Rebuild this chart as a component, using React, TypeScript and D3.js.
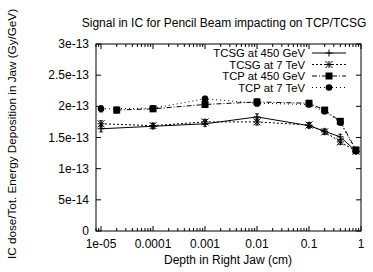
import React from 'react';
import * as d3 from 'd3';

const depths = [1e-5, 1e-4, 1e-3, 1e-2, 0.1, 0.2, 0.4, 0.8];
const tcpDepths = [2e-5, 1e-4, 1e-3, 1e-2, 0.1, 0.2, 0.4, 0.8];

// values in units of 1e-13 Gy/GeV
const tcsg450 = [1.64, 1.68, 1.72, 1.83, 1.69, 1.60, 1.51, 1.28];
const tcsg7 = [1.72, 1.69, 1.75, 1.75, 1.70, 1.59, 1.43, 1.28];
const tcp450 = [1.94, 1.96, 2.03, 2.07, 2.05, 1.94, 1.76, 1.30];
const tcp7 = [1.96, 1.97, 2.12, 2.05, 2.03, 1.92, 1.74, 1.28];
const errs = [0.05, 0.04, 0.04, 0.05, 0.04, 0.04, 0.04, 0.03];

const xTicks = [1e-5, 1e-4, 1e-3, 1e-2, 0.1, 1];
const xTickLabels = ['1e-05', '0.0001', '0.001', '0.01', '0.1', '1'];
const yTicks = [0, 0.5, 1, 1.5, 2, 2.5, 3];
const yTickLabels = ['0', '5e-14', '1e-13', '1.5e-13', '2e-13', '2.5e-13', '3e-13'];

const W = 373;
const H = 272;
const margin = { top: 44, right: 12, bottom: 41, left: 96 };
const font = '"Liberation Sans", Arial, sans-serif';
const fs = 12;

type Series = { name: string; xs: number[]; ys: number[]; dash: string; marker: string };

const series: Series[] = [
  { name: 'TCSG at 450 GeV', xs: depths, ys: tcsg450, dash: '', marker: 'plus' },
  { name: 'TCSG at 7 TeV', xs: depths, ys: tcsg7, dash: '2,2', marker: 'star' },
  { name: 'TCP at 450 GeV', xs: tcpDepths, ys: tcp450, dash: '5,2,1,2', marker: 'square' },
  { name: 'TCP at 7 TeV', xs: depths, ys: tcp7, dash: '1,3', marker: 'circle' },
];

const Marker: React.FC<{ kind: string; x: number; y: number }> = ({ kind, x, y }) => {
  const s = 3.5;
  if (kind === 'plus')
    return <path d={`M${x - s},${y}H${x + s}M${x},${y - s}V${y + s}`} stroke="#000" strokeWidth={1} />;
  if (kind === 'star')
    return (
      <path
        d={`M${x - s},${y}H${x + s}M${x},${y - s}V${y + s}M${x - s},${y - s}L${x + s},${y + s}M${x - s},${y + s}L${x + s},${y - s}`}
        stroke="#000"
        strokeWidth={1}
      />
    );
  if (kind === 'square') return <rect x={x - 3.5} y={y - 3.5} width={7} height={7} fill="#000" />;
  return <circle cx={x} cy={y} r={3.3} fill="#000" />;
};

export default function App() {
  const x = d3.scaleLog().domain([8e-6, 1]).range([margin.left, W - margin.right]);
  const y = d3.scaleLinear().domain([0, 3]).range([H - margin.bottom, margin.top]);
  const x0 = margin.left;
  const x1 = W - margin.right;
  const y0 = H - margin.bottom;
  const y1 = margin.top;

  const minor: number[] = [];
  for (let e = -6; e < 0; e++) {
    for (let m = 2; m <= 9; m++) {
      const v = m * Math.pow(10, e);
      if (v >= 8e-6 && v <= 1) minor.push(v);
    }
  }

  const line = d3
    .line<[number, number]>()
    .x((d) => x(d[0]))
    .y((d) => y(d[1]));

  const legendY = [53, 64.5, 76, 87.5];

  return (
    <svg width={W} height={H} style={{ position: 'absolute', left: 0, top: 0, background: '#fff' }}>
      <g fontFamily={font} fontSize={fs} fill="#000">
        <text x={224} y={27} textAnchor="middle">
          Signal in IC for Pencil Beam impacting on TCP/TCSG
        </text>
        <text x={228} y={264} textAnchor="middle">
          Depth in Right Jaw (cm)
        </text>
        <text transform={`translate(16,134) rotate(-90)`} textAnchor="middle" fontSize={11.7}>
          IC dose/Tot. Energy Deposition in Jaw (Gy/GeV)
        </text>
        {yTicks.map((t, i) => (
          <text key={t} x={x0 - 7} y={y(t) + 4} textAnchor="end">
            {yTickLabels[i]}
          </text>
        ))}
        {xTicks.map((t, i) => (
          <text key={t} x={x(t)} y={y0 + 17} textAnchor="middle">
            {xTickLabels[i]}
          </text>
        ))}
      </g>

      <g stroke="#000" strokeWidth={1} fill="none">
        {yTicks.map((t) => (
          <path key={t} d={`M${x0},${y(t)}h5M${x1},${y(t)}h-5`} />
        ))}
        {xTicks.map((t) => (
          <path key={t} d={`M${x(t)},${y0}v-5M${x(t)},${y1}v5`} />
        ))}
        {minor.map((t) => (
          <path key={t} d={`M${x(t)},${y0}v-3M${x(t)},${y1}v3`} />
        ))}
        <rect x={x0} y={y1} width={x1 - x0} height={y0 - y1} />
      </g>

      {series.map((s) => {
        const pts: [number, number][] = s.xs.map((d, i) => [d, s.ys[i]]);
        return (
          <g key={s.name}>
            <path d={line(pts) || ''} fill="none" stroke="#000" strokeWidth={1} strokeDasharray={s.dash} />
            {pts.map((p, i) => {
              const px = x(p[0]);
              return (
                <path
                  key={i}
                  d={`M${px},${y(p[1] - errs[i])}V${y(p[1] + errs[i])}M${px - 2},${y(p[1] - errs[i])}h4M${px - 2},${y(
                    p[1] + errs[i]
                  )}h4`}
                  stroke="#000"
                  strokeWidth={0.8}
                />
              );
            })}
            {pts.map((p, i) => (
              <Marker key={i} kind={s.marker} x={x(p[0])} y={y(p[1])} />
            ))}
          </g>
        );
      })}

      {series.map((s, i) => (
        <g key={s.name}>
          <text x={305} y={legendY[i] + 4} textAnchor="end" fontFamily={font} fontSize={11.3}>
            {s.name}
          </text>
          <path d={`M312,${legendY[i]}H346`} stroke="#000" strokeWidth={1} strokeDasharray={s.dash} />
          <Marker kind={s.marker} x={329} y={legendY[i]} />
        </g>
      ))}
    </svg>
  );
}
